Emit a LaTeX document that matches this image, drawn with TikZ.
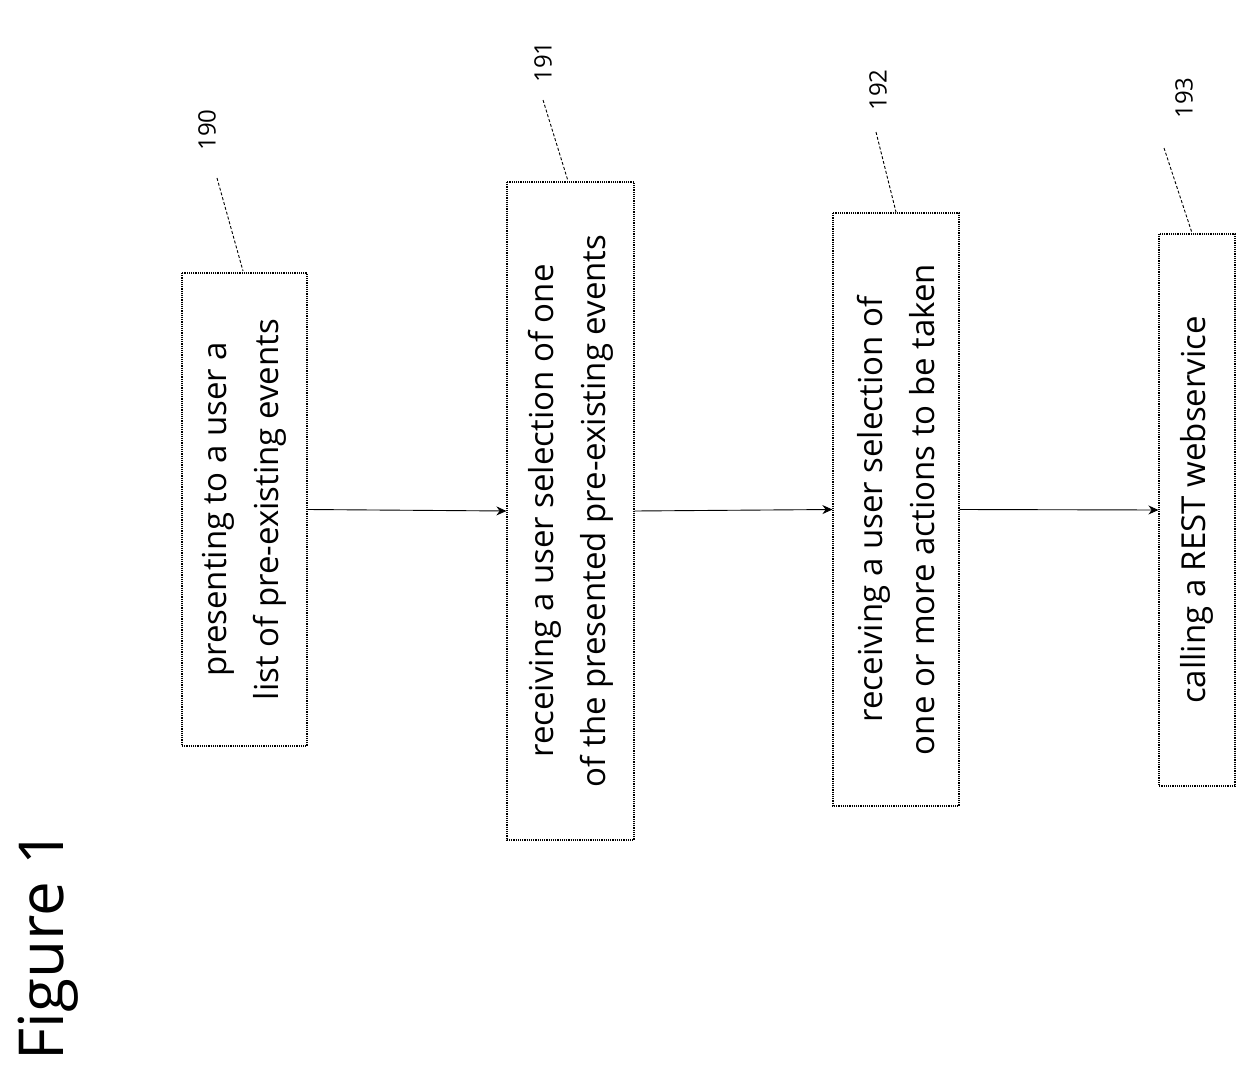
\documentclass[tikz,border=0pt]{standalone}
\usepackage{fontspec}
\setmainfont{Open Sans}
\usetikzlibrary{arrows.meta}
\begin{document}
\begin{tikzpicture}[x=1pt,y=-1pt,
  stepbox/.style={draw, densely dotted, line width=1.2pt, rotate=90, align=center, inner sep=0pt, font=\fontsize{33}{52}\selectfont},
  lbl/.style={rotate=90, font=\fontsize{24}{28}\selectfont},
  lead/.style={densely dashed, line width=0.9pt},
  arr/.style={-{Stealth[length=10pt,width=9pt]}, line width=0.9pt}]
\useasboundingbox (0,0) rectangle (1257,1075);
\node[stepbox, minimum width=473pt, minimum height=125pt] (b0) at (244.5,509.5) {presenting to a user a\\list of pre-existing events};
\node[stepbox, minimum width=658pt, minimum height=127pt] (b1) at (570.5,511) {receiving a user selection of one\\of the presented pre-existing events};
\node[stepbox, minimum width=593pt, minimum height=126pt] (b2) at (896,509.5) {receiving a user selection of\\one or more actions to be taken};
\node[stepbox, minimum width=552pt, minimum height=76pt] (b3) at (1197,510) {calling a REST webservice};
\draw[arr] (b0.south) -- (b1.north);
\draw[arr] (b1.south) -- (b2.north);
\draw[arr] (b2.south) -- (b3.north);
\node[lbl] (l0) at (207,130) {190};
\node[lbl] (l1) at (543,62) {191};
\node[lbl] (l2) at (878,90) {192};
\node[lbl] (l3) at (1184,98) {193};
\coordinate (c0) at (217,178); \draw[lead] (c0) -- (243,271);
\coordinate (c1) at (543,100); \draw[lead] (c1) -- (568,181);
\coordinate (c2) at (876,132); \draw[lead] (c2) -- (896,212);
\coordinate (c3) at (1164,148); \draw[lead] (c3) -- (1192,233);
\node[rotate=90, font=\fontsize{62}{70}\selectfont] (fig) at (48,945) {Figure 1};
\end{tikzpicture}
\end{document}
